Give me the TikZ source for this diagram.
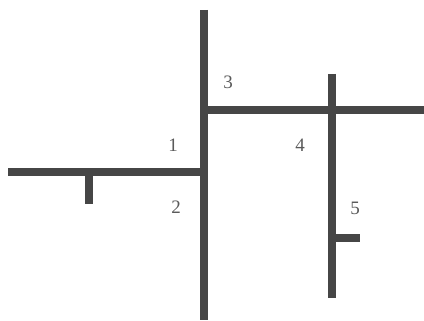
\documentclass[tikz,border=0pt]{standalone}
\usepackage{fontspec}
\setmainfont{Liberation Serif}
\usetikzlibrary{positioning}
\definecolor{roadgray}{RGB}{70,70,70}
\definecolor{labelgray}{RGB}{90,90,90}

\begin{document}
\begin{tikzpicture}[x=1pt,y=-1pt,
    road/.style={line width=7.5pt,roadgray},
    num/.style={font=\fontsize{19}{19}\selectfont,text=labelgray,inner sep=1pt}]
  \useasboundingbox (0,0) rectangle (424,321);
  % Junction points
  \coordinate (top) at (204,10);
  \coordinate (bot) at (204,320);
  \coordinate (jup) at (204,110);
  \coordinate (jlow) at (204,172);
  \coordinate (east) at (424,110);
  \coordinate (west) at (8,172);
  \coordinate (rtop) at (332,74);
  \coordinate (rbot) at (332,298);
  \coordinate (cross) at (332,110);
  % Stubs
  \coordinate (ltick) at (89,172);
  \coordinate (ltickend) at (89,204);
  \coordinate (rtick) at (332,238);
  \coordinate (rtickend) at (360,238);
  % Roads
  \draw[road] (top) -- (bot);
  \draw[road] (jup) -- (east);
  \draw[road] (west) -- (jlow);
  \draw[road] (rtop) -- (rbot);
  \draw[road] (ltick) -- (ltickend);
  \draw[road] (rtick) -- (rtickend);
  % Labels
  \node[num] (n1) at (173,145) {1};
  \node[num] (n2) at (176,207) {2};
  \node[num] (n3) at (228,82) {3};
  \node[num] (n4) at (300,145) {4};
  \node[num] (n5) at (355,208) {5};
\end{tikzpicture}
\end{document}
